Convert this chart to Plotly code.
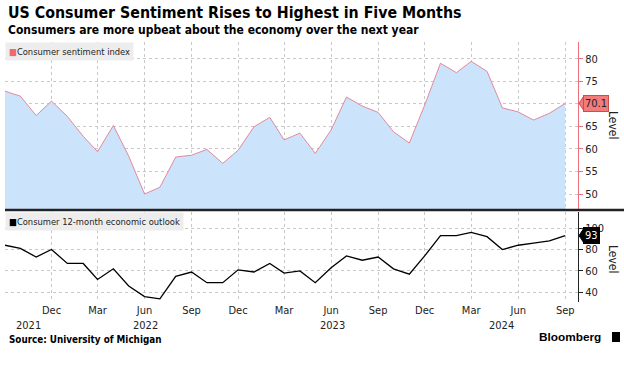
import plotly.graph_objects as go

months = [
    "2021-09-01", "2021-10-01", "2021-11-01", "2021-12-01",
    "2022-01-01", "2022-02-01", "2022-03-01", "2022-04-01", "2022-05-01", "2022-06-01",
    "2022-07-01", "2022-08-01", "2022-09-01", "2022-10-01", "2022-11-01", "2022-12-01",
    "2023-01-01", "2023-02-01", "2023-03-01", "2023-04-01", "2023-05-01", "2023-06-01",
    "2023-07-01", "2023-08-01", "2023-09-01", "2023-10-01", "2023-11-01", "2023-12-01",
    "2024-01-01", "2024-02-01", "2024-03-01", "2024-04-01", "2024-05-01", "2024-06-01",
    "2024-07-01", "2024-08-01", "2024-09-01",
]
sentiment = [
    72.8, 71.7, 67.4, 70.6,
    67.2, 62.8, 59.4, 65.2, 58.4, 50.0, 51.5, 58.2, 58.6, 59.9, 56.8, 59.7,
    64.9, 67.0, 62.0, 63.5, 59.0, 64.2, 71.5, 69.5, 68.1, 63.8, 61.3, 69.7,
    79.0, 76.9, 79.4, 77.2, 69.1, 68.2, 66.4, 67.9, 70.1,
]
outlook = [
    84, 81, 73, 80,
    67, 67, 52, 62, 46, 36, 34, 55, 59, 49, 49, 61,
    59, 67, 58, 60, 49, 63, 74, 70, 73, 62, 57, 74,
    93, 93, 96, 92, 80, 84, 86, 88, 93,
]
tick_dates = ["2021-12-01", "2022-03-01", "2022-06-01", "2022-09-01", "2022-12-01",
              "2023-03-01", "2023-06-01", "2023-09-01", "2023-12-01", "2024-03-01",
              "2024-06-01", "2024-09-01"]
tick_labels = ["Dec", "Mar", "Jun", "Sep", "Dec", "Mar", "Jun", "Sep", "Dec", "Mar", "Jun", "Sep"]
year_label_dates = ["2021-10-16", "2022-06-02", "2023-06-03", "2024-04-29"]
year_labels = ["2021", "2022", "2023", "2024"]
top_ticks = [50, 55, 60, 65, 70, 75, 80]
top_tick_labels = ["50", "55", "60", "65", "", "75", "80"]  # 70 is hidden behind the value tag
bottom_ticks = [40, 60, 80, 100]

FONT = "'DejaVu Sans Condensed', 'DejaVu Sans', sans-serif"
RED = "#ee6f7c"
GRID = "#c8c8c8"

fig = go.Figure()
fig.add_trace(go.Scatter(
    x=months, y=sentiment, mode="lines", fill="tozeroy",
    fillcolor="#cbe3fb", line=dict(color="#e28a9b", width=1),
    xaxis="x", yaxis="y", showlegend=False, hoverinfo="skip"))
fig.add_trace(go.Scatter(
    x=months, y=outlook, mode="lines",
    line=dict(color="#000000", width=1.3),
    xaxis="x2", yaxis="y2", showlegend=False, hoverinfo="skip"))

xr = ["2021-09-01", "2024-09-26"]
common_x = dict(range=xr, type="date", tickvals=tick_dates, showgrid=True,
                gridcolor=GRID, griddash="dot", gridwidth=1, zeroline=False,
                showline=False, ticks="")
fig.update_layout(
    width=624, height=365,
    margin=dict(l=5, r=46, t=42, b=63),
    paper_bgcolor="white", plot_bgcolor="white",
    font=dict(family=FONT, size=11, color="#222222"),
    xaxis=dict(**common_x, anchor="y", showticklabels=False, matches="x2"),
    xaxis2=dict(**common_x, anchor="y2", ticktext=tick_labels, showticklabels=True,
                tickfont=dict(size=11, color="#222222")),
    yaxis=dict(domain=[0.358, 1], range=[46.7, 83.7], side="right",
               tickvals=top_ticks, ticktext=top_tick_labels,
               showgrid=True, gridcolor=GRID, griddash="dot", zeroline=False,
               showline=True, linecolor=RED, linewidth=1,
               ticks="outside", ticklen=4, tickcolor=RED,
               tickfont=dict(size=11, color="#222222"), anchor="x"),
    yaxis2=dict(domain=[0, 0.346], range=[31, 115], side="right", tickvals=bottom_ticks,
                showgrid=True, gridcolor=GRID, griddash="dot", zeroline=False,
                showline=True, linecolor="#222222", linewidth=1,
                ticks="outside", ticklen=4, tickcolor="#222222",
                tickfont=dict(size=11, color="#222222"), anchor="x2"),
)

def px_x(p):
    return (p - 5) / 573.0

def px_y(p):
    return (302 - p) / 260.0

ann = []
ann.append(dict(text="<b>US Consumer Sentiment Rises to Highest in Five Months</b>",
                xref="paper", yref="paper", x=px_x(6), y=px_y(13), xanchor="left", yanchor="middle",
                showarrow=False, font=dict(family=FONT, size=15.8, color="#000000")))
ann.append(dict(text="<b>Consumers are more upbeat about the economy over the next year</b>",
                xref="paper", yref="paper", x=px_x(6), y=px_y(30), xanchor="left", yanchor="middle",
                showarrow=False, font=dict(family=FONT, size=12, color="#000000")))
ann.append(dict(text="<b>Source: University of Michigan</b>",
                xref="paper", yref="paper", x=px_x(7), y=px_y(339), xanchor="left", yanchor="middle",
                showarrow=False, font=dict(family=FONT, size=9.8, color="#000000")))
ann.append(dict(text="<b>Bloomberg</b>",
                xref="paper", yref="paper", x=px_x(603), y=px_y(337), xanchor="right", yanchor="middle",
                showarrow=False, font=dict(family="'Liberation Sans', Arial, sans-serif", size=11.8, color="#000000")))
# legends
ann.append(dict(text="<span style='color:#f06a6a'>■</span>Consumer sentiment index",
                xref="paper", yref="paper", x=0, y=1, xanchor="left", yanchor="top",
                showarrow=False, bgcolor="#ededed", borderpad=3,
                font=dict(size=9.3, color="#222222")))
ann.append(dict(text="<span style='color:#000000'>■</span>Consumer 12-month economic outlook",
                xref="paper", yref="paper", x=0, y=0.346, xanchor="left", yanchor="top",
                showarrow=False, bgcolor="#ededed", borderpad=3,
                font=dict(size=9.3, color="#222222")))
# value tags
ann.append(dict(text=f"{sentiment[-1]:.1f}", xref="paper", yref="y", x=px_x(583), y=sentiment[-1],
                xanchor="left", yanchor="middle", showarrow=False, bgcolor="#f27b7b",
                bordercolor="#d24a4a", borderwidth=1, borderpad=1,
                font=dict(size=11, color="#222222")))
ann.append(dict(text=f"{outlook[-1]}", xref="paper", yref="y2", x=px_x(583), y=outlook[-1],
                xanchor="left", yanchor="middle", showarrow=False, bgcolor="#000000",
                bordercolor="#000000", borderwidth=1, borderpad=1,
                font=dict(size=11, color="#ffffff")))
# axis titles
ann.append(dict(text="Level", xref="paper", yref="paper", x=px_x(613), y=px_y(125),
                xanchor="center", yanchor="middle", textangle=90, showarrow=False,
                font=dict(size=12, color="#222222")))
ann.append(dict(text="Level", xref="paper", yref="paper", x=px_x(613), y=px_y(259),
                xanchor="center", yanchor="middle", textangle=90, showarrow=False,
                font=dict(size=12, color="#222222")))
for d, lab in zip(year_label_dates, year_labels):
    ann.append(dict(text=lab, xref="x2", yref="paper", x=d, y=px_y(325),
                    xanchor="center", yanchor="middle", showarrow=False,
                    font=dict(size=11, color="#222222")))
fig.update_layout(annotations=ann)

shapes = []
# separator line
shapes.append(dict(type="line", xref="paper", yref="paper", x0=0, x1=px_x(624),
                   y0=px_y(210), y1=px_y(210), line=dict(color="#222222", width=2.5)))
# tag pointers
shapes.append(dict(type="path", xref="paper", yref="y", xsizemode="pixel", ysizemode="pixel",
                   xanchor=1.0, yanchor=sentiment[-1],
                   path="M 1 0 L 6 7.5 L 6 -7.5 Z", fillcolor="#f27b7b",
                   line=dict(color="#d24a4a", width=1)))
shapes.append(dict(type="path", xref="paper", yref="y2", xsizemode="pixel", ysizemode="pixel",
                   xanchor=1.0, yanchor=outlook[-1],
                   path="M 1 0 L 6 7.5 L 6 -7.5 Z", fillcolor="#000000",
                   line=dict(color="#000000", width=1)))
# Bloomberg logo block
shapes.append(dict(type="rect", xref="paper", yref="paper", x0=px_x(612), x1=px_x(620),
                   y0=px_y(342), y1=px_y(332), fillcolor="#000000", line=dict(width=0)))
fig.update_layout(shapes=shapes)

fig.write_html("out.html", config={"displayModeBar": False},
               post_script="document.body.style.margin='0';document.body.style.overflow='hidden';")
